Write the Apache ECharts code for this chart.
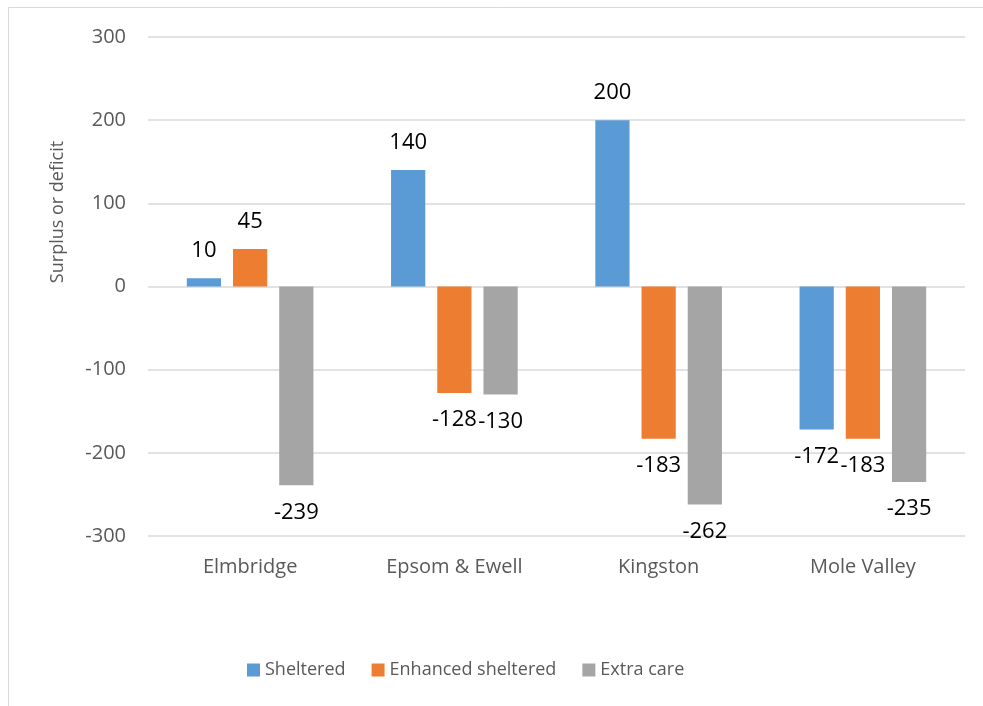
<!DOCTYPE html>
<html><head><meta charset="utf-8">
<script src="https://cdn.jsdelivr.net/npm/echarts@6/dist/echarts.min.js"></script>
<style>html,body{margin:0;padding:0;background:#fff}#c{width:983px;height:706px}</style>
</head><body><div id="c"></div>
<script>
const categories = ["Elmbridge", "Epsom & Ewell", "Kingston", "Mole Valley"];
const sheltered = [10, 140, 200, -172];
const enhancedSheltered = [45, -128, -183, -183];
const extraCare = [-239, -130, -262, -235];
const seriesNames = ["Sheltered", "Enhanced sheltered", "Extra care"];
const yTicks = { min: -300, max: 300, interval: 100 };
const axisTitle = "Surplus or deficit";

const FONT = "Open Sans";
const chart = echarts.init(document.getElementById('c'), null, {renderer: 'canvas'});
const label = { show: true, position: 'outside', distance: 16, color: '#000', fontSize: 22, fontFamily: FONT };
const mk = (name, data, color) => ({
  name, type: 'bar', data, barGap: '35%', barCategoryGap: '38%',
  itemStyle: { color }, label, emphasis: { disabled: true }
});
chart.setOption({
  animation: false,
  textStyle: { fontFamily: FONT },
  grid: { left: 148, right: 18, top: 37, bottom: 170, containLabel: false },
  graphic: [
    { type: 'rect', shape: { x: 8.5, y: 7.5, width: 1000, height: 1000 }, style: { fill: 'none', stroke: '#d9d9d9', lineWidth: 1 }, silent: true, z: -10 },
    { type: 'text', x: 58, y: 212, rotation: Math.PI / 2,
      style: { text: axisTitle, fill: '#595959', fontSize: 18, fontFamily: FONT, align: 'center', verticalAlign: 'middle' } }
  ],
  legend: {
    bottom: 22, left: 242, itemWidth: 13, itemHeight: 13, itemGap: 26,
    icon: 'rect', textStyle: { color: '#595959', fontSize: 18, fontFamily: FONT },
    data: seriesNames
  },
  xAxis: {
    type: 'category', data: categories,
    axisLine: { show: false }, axisTick: { show: false },
    axisLabel: { color: '#595959', fontSize: 20, margin: 21, fontFamily: FONT }
  },
  yAxis: {
    type: 'value', min: yTicks.min, max: yTicks.max, interval: yTicks.interval,
    axisLine: { show: false }, axisTick: { show: false },
    splitLine: { lineStyle: { color: '#d9d9d9', width: 1.5 } },
    axisLabel: { color: '#595959', fontSize: 20, margin: 22, fontFamily: FONT }
  },
  series: [
    mk(seriesNames[0], sheltered, '#5B9BD5'),
    mk(seriesNames[1], enhancedSheltered, '#ED7D31'),
    mk(seriesNames[2], extraCare, '#A5A5A5')
  ]
});
</script></body></html>
